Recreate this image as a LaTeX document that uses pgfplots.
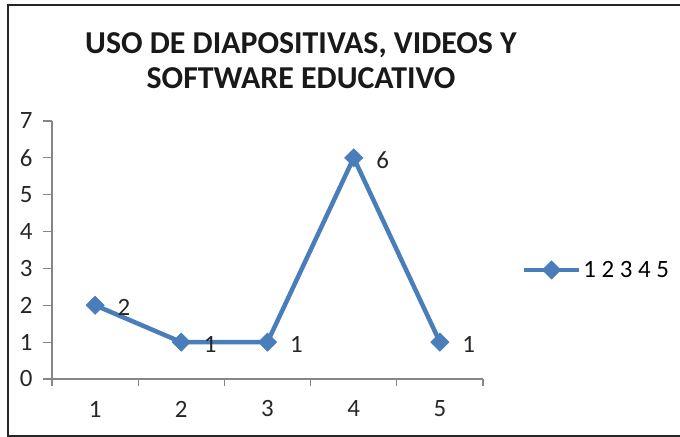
\documentclass[border=0pt]{standalone}
\usepackage{pgfplots}
\pgfplotsset{compat=1.18}
\usepackage{fontspec}
\setmainfont{Carlito}
\definecolor{xlblue}{RGB}{74,126,187}
\definecolor{axgray}{RGB}{134,134,134}
\begin{document}
\begin{tikzpicture}[x=1bp,y=1bp]
\useasboundingbox (0,0) rectangle (680,437);
\draw[line width=2.5bp, draw=black!85] (8,1) rectangle (700,432);
\node[font=\bfseries\fontsize{32}{34}\selectfont, text=black!90] at (301,392) {USO DE DIAPOSITIVAS, VIDEOS Y};
\node[font=\bfseries\fontsize{32}{34}\selectfont, text=black!90] at (301,359) {SOFTWARE EDUCATIVO};
\begin{axis}[
  at={(52bp,58bp)}, anchor=south west,
  scale only axis, width=431bp, height=258bp,
  xmin=0.5, xmax=5.5, ymin=0, ymax=7,
  axis x line*=bottom, axis y line*=left,
  axis line style={-, draw=axgray, line width=1.2bp},
  xtick={1,2,3,4,5},
  minor xtick={0.5,1.5,2.5,3.5,4.5,5.5},
  ytick={0,1,2,3,4,5,6,7},
  tick align=outside,
  major tick length=9bp, minor tick length=7bp,
  major x tick style={draw=none},
  tick style={draw=axgray, line width=1.2bp},
  minor tick style={draw=axgray, line width=1.2bp},
  /pgf/number format/assume math mode=true,
  tick label style={font=\fontsize{25}{27}\selectfont, text=black!85},
  yticklabel style={anchor=east, xshift=-7bp},
  xticklabel style={anchor=center, yshift=-21bp},
  legend style={draw=none, fill=none, at={(rel axis cs:1.09,0.4225)}, anchor=west,
    font=\fontsize{25}{27}\selectfont, inner sep=0pt, outer sep=0pt,
    /tikz/every even column/.append style={column sep=0pt}},
  legend cell align=left,
  legend image code/.code={
    \draw[mark repeat=2, mark phase=2, #1] plot coordinates {(0bp,0bp) (27.5bp,0bp) (55bp,0bp)};
  },
  nodes near coords,
  every node near coord/.append style={anchor=west, xshift=19bp, yshift=-2bp,
    font=\fontsize{25}{27}\selectfont, text=black!85},
  clip=false,
]
\addplot[xlblue, line width=4.5bp, mark=square*, mark size=6.5bp,
  mark options={rotate=45, line width=0.5bp, fill=xlblue}]
  coordinates {(1,2) (2,1) (3,1) (4,6) (5,1)};
\addlegendentry{1 2 3 4 5}
\end{axis}
\end{tikzpicture}
\end{document}
